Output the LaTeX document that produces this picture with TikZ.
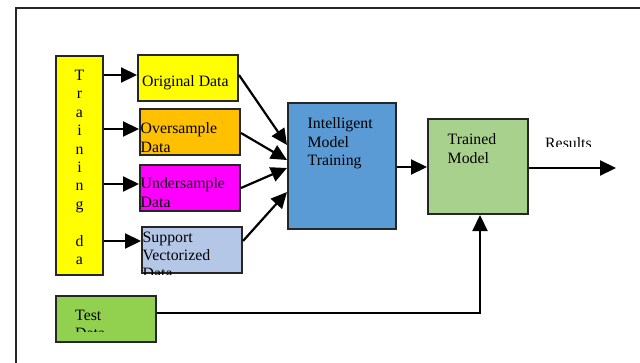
\documentclass[tikz,border=0pt]{standalone}
\usepackage{fontspec}
\setmainfont{Liberation Serif}
\usetikzlibrary{positioning,arrows.meta}

\definecolor{trainyellow}{HTML}{FFFF00}
\definecolor{overorange}{HTML}{FFC000}
\definecolor{undermagenta}{HTML}{FF00FF}
\definecolor{supportblue}{HTML}{B4C7E7}
\definecolor{modelblue}{HTML}{5B9BD5}
\definecolor{trainedgreen}{HTML}{A9D18E}
\definecolor{testgreen}{HTML}{92D050}

\tikzset{
  box/.style={draw=black!85,line width=2pt,anchor=north west,inner sep=0pt,
    minimum width=100pt,minimum height=46pt},
  txt/.style={anchor=north west,inner sep=0pt,align=left},
  arr/.style={line width=2.2pt,-{Triangle[length=16pt,width=15pt]}}
}

\begin{document}
\begin{tikzpicture}[x=1pt,y=-1pt,font=\fontsize{15.8}{18.4}\selectfont]
                \useasboundingbox (0,0) rectangle (640,362);
                % frame runs off the page
                \draw[line width=1.5pt,black!85] (16,380) -- (16,8) -- (660,8);
                \node[box,fill=trainyellow,minimum width=47pt,minimum height=219pt] (train) at (55,55) {};
                \node[txt,anchor=north,align=center,below=15pt of train.north] (traintxt)
                    {T\\r\\a\\i\\n\\i\\n\\g\\[18.4pt]d\\a};
                \node[box,fill=trainyellow] (orig) at (137,54) {};
                \node[txt] (origtxt) at (142,75.5) {Original Data};
                \node[box,fill=overorange] (over) at (139,108) {};
                \node[txt] (overtxt) at (140.5,122.5) {Oversample\\Data};
                \node[box,fill=undermagenta] (under) at (139,164) {};
                \node[txt] (undertxt) at (140.5,177.5) {Undersample\\Data};
                \node[box,fill=supportblue] (svd) at (141,226) {};
                \begin{scope}
                    \clip (svd.north west) rectangle (svd.south east);
                    \node[txt] (svdtxt) at (142.5,231.5) {Support\\Vectorized\\Data};
                \end{scope}
                \node[box,fill=modelblue,minimum width=108pt,minimum height=126pt] (imt) at (287,102) {};
                \node[txt] (imttxt) at (307.5,117.5) {Intelligent\\Model\\Training};
                \node[box,fill=trainedgreen,minimum width=100pt,minimum height=95pt] (trained) at (427,118) {};
                \node[txt] (trainedtxt) at (447.5,133.5) {Trained\\Model};
                \node[box,fill=testgreen] (test) at (55,295) {};
                \begin{scope}
                    \clip (test.north west) rectangle (155,331);
                    \node[txt] (testtxt) at (75,309.5) {Test\\Data};
                \end{scope}
                \begin{scope}
                    \clip (540,130) rectangle (600,146);
                    \node[txt] (restxt) at (545,137) {Results};
                \end{scope}
                \coordinate (out) at (616,168);
                \draw[arr] (train.east |- 0,75) -- (orig.west |- 0,75);
                \draw[arr] (train.east |- 0,129) -- (over.west |- 0,129);
                \draw[arr] (train.east |- 0,184) -- (under.west |- 0,184);
                \draw[arr] (train.east |- 0,241) -- (svd.west |- 0,241);
                \draw[arr] (orig.east |- 0,75) -- (imt.west |- 0,145);
                \draw[arr] (over.east |- 0,133) -- (imt.west |- 0,160);
                \draw[arr] (under.east |- 0,188) -- (imt.west |- 0,168);
                \draw[arr] (svd.east |- 0,241) -- (imt.west |- 0,192);
                \draw[arr] (imt.east |- 0,167) -- (trained.west |- 0,167);
                \draw[arr] (trained.east |- out) -- (out);
                \draw[arr] (test.east |- 0,313) -| ([xshift=2pt]trained.south);
            \end{tikzpicture}
\end{document}
